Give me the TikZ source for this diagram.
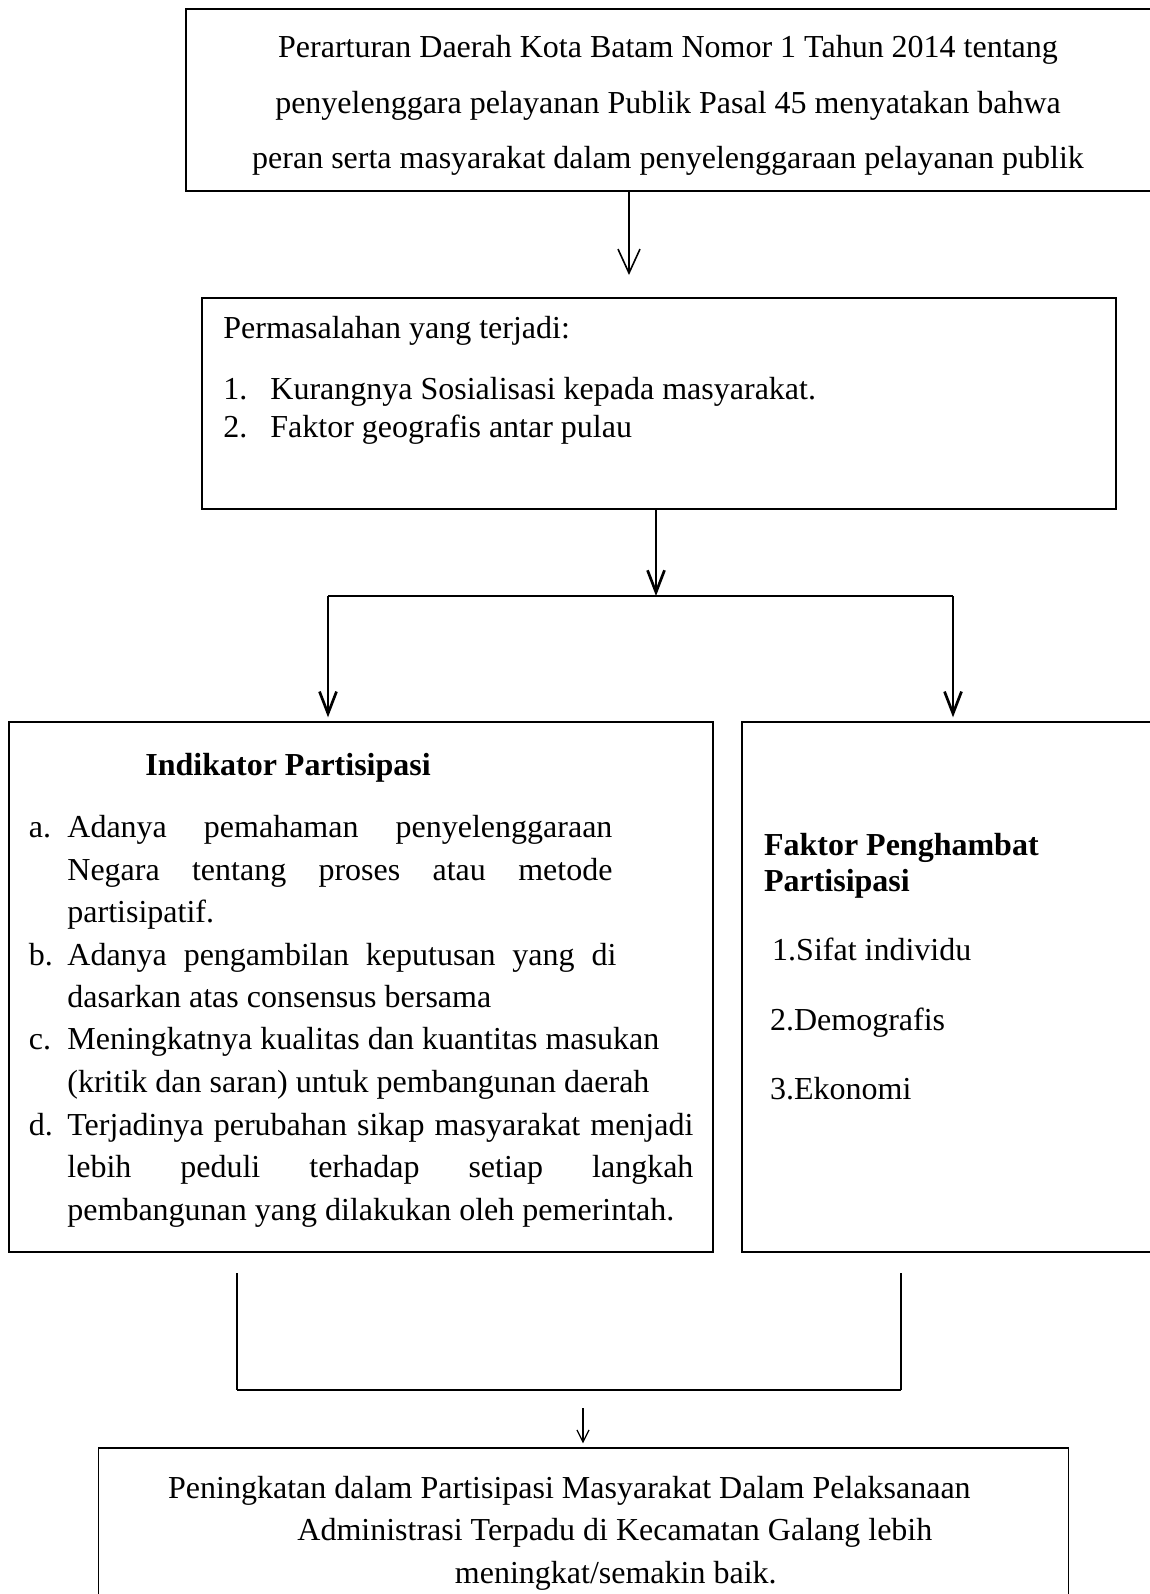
\documentclass[tikz,border=0pt]{standalone}
\usepackage{fontspec}
\setmainfont{Liberation Serif}
\usetikzlibrary{arrows.meta}
\begin{document}
\begin{tikzpicture}[x=0.5pt,y=-0.5pt,
  box/.style={draw,line width=0.7pt,inner sep=0pt,rectangle},
  txt/.style={inner sep=0pt,yshift=-3pt,font=\fontsize{16}{19}\selectfont},
  thinarr/.style={line width=0.8pt,-{Straight Barb[length=12pt,width=11pt,line width=0.8pt]}},
  thickarr/.style={line width=1.35pt,-{Straight Barb[length=11pt,width=8.5pt,line width=1.35pt]}},
  smallarr/.style={line width=0.6pt,-{Straight Barb[length=6pt,width=6pt,line width=0.6pt]}},
  thickline/.style={line width=1.35pt},
  medline/.style={line width=0.9pt}
]
\useasboundingbox (0,0) rectangle (1150,1594);
\clip (0,0) rectangle (1150,1594);

% top box
\node[box, minimum width=487pt, minimum height=91pt] (top) at (673,100) {};
\node[txt, anchor=mid] (t1) at (668,47) {Perarturan Daerah Kota Batam Nomor 1 Tahun 2014 tentang};
\node[txt, anchor=mid] (t2) at (668,103) {penyelenggara pelayanan Publik Pasal 45 menyatakan bahwa};
\node[txt, anchor=mid] (t3) at (668,158) {peran serta masyarakat dalam penyelenggaraan pelayanan publik};

% problem box
\node[box, minimum width=457pt, minimum height=105.5pt] (prob) at (659,403.5) {};
\node[txt, anchor=mid west] (p0) at (223,328) {Permasalahan yang terjadi:};
\node[txt, anchor=mid west] (p1n) at (223,389) {1.};
\node[txt, anchor=mid west] (p1) at (270,389) {Kurangnya Sosialisasi kepada masyarakat.};
\node[txt, anchor=mid west] (p2n) at (223,427) {2.};
\node[txt, anchor=mid west] (p2) at (270,427) {Faktor geografis antar pulau};

% indikator box
\node[box, minimum width=352pt, minimum height=265pt] (ind) at (361,987) {};
\node[txt, anchor=mid west, font=\fontsize{16}{19}\selectfont\bfseries] (ih) at (145,765) {Indikator Partisipasi};
\node[txt, anchor=mid west] (ia) at (28.5,826.7) {a.};
\node[txt, anchor=mid west] (ia1) at (67,826.7) {\makebox[272.5pt][s]{Adanya pemahaman penyelenggaraan}};
\node[txt, anchor=mid west] (ia2) at (67,869.4) {\makebox[272.5pt][s]{Negara tentang proses atau metode}};
\node[txt, anchor=mid west] (ia3) at (67,912.1) {partisipatif.};
\node[txt, anchor=mid west] (ib) at (28.5,954.8) {b.};
\node[txt, anchor=mid west] (ib1) at (67,954.8) {\makebox[274.5pt][s]{Adanya pengambilan keputusan yang di}};
\node[txt, anchor=mid west] (ib2) at (67,996.5) {dasarkan atas consensus bersama};
\node[txt, anchor=mid west] (ic) at (28.5,1039.2) {c.};
\node[txt, anchor=mid west] (ic1) at (67,1039.2) {Meningkatnya kualitas dan kuantitas masukan};
\node[txt, anchor=mid west] (ic2) at (67,1081.9) {(kritik dan saran) untuk pembangunan daerah};
\node[txt, anchor=mid west] (id) at (28.5,1124.6) {d.};
\node[txt, anchor=mid west] (id1) at (67,1124.6) {\makebox[313pt][s]{Terjadinya perubahan sikap masyarakat menjadi}};
\node[txt, anchor=mid west] (id2) at (67,1167.3) {\makebox[313pt][s]{lebih peduli terhadap setiap langkah}};
\node[txt, anchor=mid west] (id3) at (67,1210) {pembangunan yang dilakukan oleh pemerintah.};

% faktor box
\node[box, minimum width=209pt, minimum height=265pt] (fak) at (951,987) {};
\node[txt, anchor=mid west, font=\fontsize{16}{19}\selectfont\bfseries] (fh1) at (763.6,845) {Faktor Penghambat};
\node[txt, anchor=mid west, font=\fontsize{16}{19}\selectfont\bfseries] (fh2) at (763.6,880.6) {Partisipasi};
\node[txt, anchor=mid west] (f1) at (771.8,949.7) {1.Sifat individu};
\node[txt, anchor=mid west] (f2) at (769.7,1019.9) {2.Demografis};
\node[txt, anchor=mid west] (f3) at (769.7,1089) {3.Ekonomi};

% result box
\node[box, minimum width=485pt, minimum height=86pt] (res) at (583.6,1534) {};
\node[txt, anchor=mid west] (r1) at (167.8,1487.6) {Peningkatan dalam Partisipasi Masyarakat Dalam Pelaksanaan};
\node[txt, anchor=mid west] (r2) at (297,1530) {Administrasi Terpadu di Kecamatan Galang lebih};
\node[txt, anchor=mid west] (r3) at (454.5,1573) {meningkat/semakin baik.};

% connectors
\coordinate (a1e) at (629,275);
\draw[thinarr] (629,0 |- top.south) -- (a1e);
\coordinate (split) at (656,596);
\coordinate (hl) at (328,596);
\coordinate (hr) at (953,596);
\draw[thickarr] (656,0 |- prob.south) -- (split);
\draw[thickline] (hl) -- (hr);
\draw[thickarr, shorten >=2pt] (hl) -- (hl |- ind.north);
\draw[thickarr, shorten >=2pt] (hr) -- (hr |- fak.north);

\coordinate (blt) at (237,1273);
\coordinate (bl) at (237,1390);
\coordinate (brt) at (901,1273);
\coordinate (br) at (901,1390);
\draw[medline] (blt) -- (bl);
\draw[medline] (brt) -- (br);
\draw[thickline] (bl) -- (br);
\coordinate (ds) at (583,1408);
\draw[smallarr, shorten >=2pt] (ds) -- (ds |- res.north);
\end{tikzpicture}
\end{document}
